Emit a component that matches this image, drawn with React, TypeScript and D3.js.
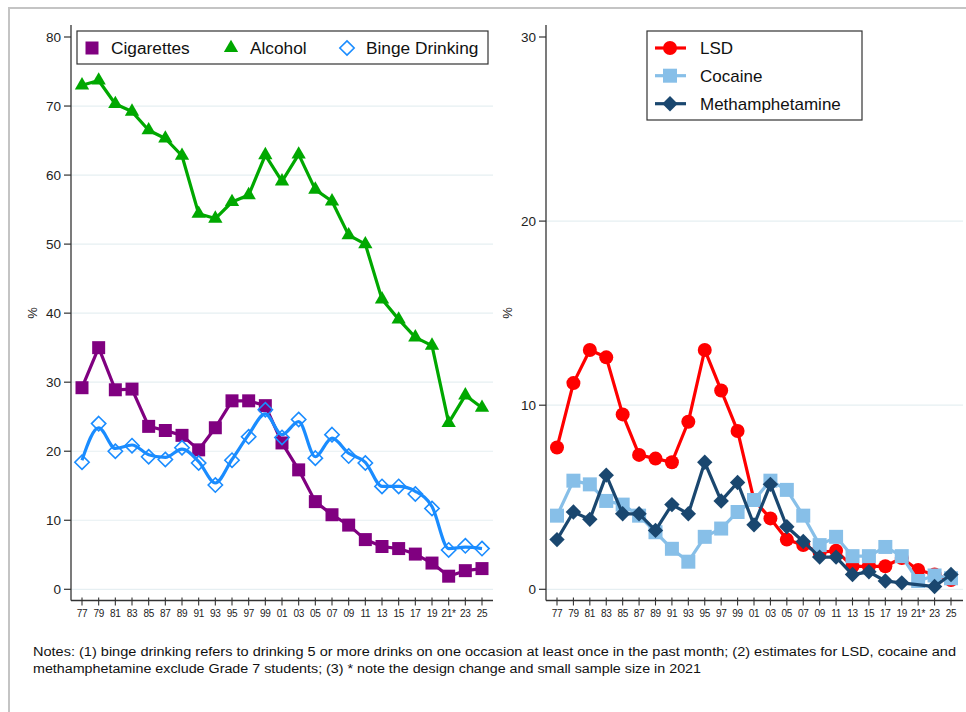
import { useMemo } from "react";
import * as d3 from "d3";

// survey years (two-digit labels as on the axis)
const years = ["77", "79", "81", "83", "85", "87", "89", "91", "93", "95", "97", "99", "01", "03", "05", "07", "09", "11", "13", "15", "17", "19", "21*", "23", "25"];

// left panel (%)
const cigarettes = [29.2, 35.0, 28.9, 29.0, 23.6, 23.0, 22.3, 20.2, 23.4, 27.3, 27.3, 26.6, 21.2, 17.3, 12.7, 10.8, 9.3, 7.2, 6.2, 5.9, 5.1, 3.8, 1.9, 2.7, 3.0];
const alcohol = [73.0, 73.7, 70.3, 69.2, 66.5, 65.3, 62.8, 54.4, 53.7, 56.1, 57.1, 62.9, 59.1, 63.0, 57.9, 56.2, 51.3, 50.0, 42.0, 39.1, 36.5, 35.3, 24.1, 28.1, 26.3];
const bingeDrinking = [18.4, 24.0, 20.0, 20.8, 19.2, 18.8, 20.5, 18.3, 15.1, 18.7, 22.1, 26.0, 22.0, 24.6, 19.0, 22.4, 19.3, 18.3, 14.9, 14.9, 13.8, 11.7, 5.7, 6.3, 5.9];
const bingeTrend = [18.7, 23.4, 20.4, 20.9, 19.5, 19.1, 20.3, 18.5, 15.4, 18.8, 22.4, 25.4, 22.4, 24.3, 19.2, 21.9, 19.7, 18.4, 14.9, 14.9, 14.2, 12.0, 5.9, 6.1, 5.9];

// right panel (%)
const lsd = [7.7, 11.2, 13.0, 12.6, 9.5, 7.3, 7.1, 6.9, 9.1, 13.0, 10.8, 8.6, 4.85, 3.85, 2.7, 2.4, 2.0, 2.1, 1.25, 1.25, 1.25, 1.7, 1.05, 0.8, 0.5];
const cocaine = [4.0, 5.9, 5.7, 4.8, 4.6, 4.0, 3.1, 2.2, 1.5, 2.85, 3.3, 4.2, 4.85, 5.9, 5.4, 4.0, 2.4, 2.85, 1.8, 1.8, 2.3, 1.8, 0.45, 0.75, 0.6];
const methamphetamine: (number | null)[] = [2.7, 4.2, 3.8, 6.2, 4.1, 4.1, 3.2, 4.6, 4.1, 6.9, 4.8, 5.8, 3.5, 5.7, 3.4, 2.6, 1.75, 1.75, 0.8, 0.95, 0.45, 0.35, null, 0.15, 0.8];

const leftTicks = [0, 10, 20, 30, 40, 50, 60, 70, 80];
const rightTicks = [0, 10, 20, 30];

const noteLines = [
  "Notes: (1) binge drinking refers to drinking 5 or more drinks on one occasion at least once in the past month; (2) estimates for LSD, cocaine and",
  "methamphetamine exclude Grade 7 students; (3) * note the design change and small sample size in 2021",
];

type Shape = "square" | "triangle" | "diamond" | "circle";

interface Series {
  name: string;
  color: string;
  shape: Shape;
  hollow?: boolean;
  values: (number | null)[];
  line?: (number | null)[];
  smooth?: boolean;
}

const FONT = "'Liberation Sans', Arial, Helvetica, sans-serif";
const GRID = "#e6eff2";
const AXIS = "#333";

function markerPath(shape: Shape, s: number): string {
  const h = s / 2;
  switch (shape) {
    case "square":
      return `M${-h},${-h}H${h}V${h}H${-h}Z`;
    case "triangle": {
      const w = s * 1.1;
      const ht = s * 0.95;
      return `M0,${(-2 * ht) / 3}L${w / 2},${ht / 3}L${-w / 2},${ht / 3}Z`;
    }
    case "diamond":
      return `M0,${-h * 1.1}L${h * 1.1},0L0,${h * 1.1}L${-h * 1.1},0Z`;
    default:
      return d3.arc()({ innerRadius: 0, outerRadius: h, startAngle: 0, endAngle: 2 * Math.PI }) ?? "";
  }
}

function Marker({ x, y, s, color, shape, hollow }: { x: number; y: number; s: number; color: string; shape: Shape; hollow?: boolean }) {
  return (
    <path
      transform={`translate(${x},${y})`}
      d={markerPath(shape, s)}
      fill={hollow ? "none" : color}
      stroke={color}
      strokeWidth={hollow ? 1.6 : 0}
    />
  );
}

interface PanelProps {
  x0: number;
  x1: number;
  dataX0: number;
  dataX1: number;
  yMax: number;
  ticks: number[];
  series: Series[];
  markerSize: number;
}

function Panel({ x0, x1, dataX0, dataX1, yMax, ticks, series, markerSize }: PanelProps) {
  const x = useMemo(() => d3.scalePoint<string>().domain(years).range([dataX0, dataX1]), [dataX0, dataX1]);
  const y = useMemo(() => d3.scaleLinear().domain([0, yMax]).range([589.3, 37]), [yMax]);
  const axisY = 600.5;

  return (
    <g fontFamily={FONT}>
      {/* grid */}
      {ticks
        .filter((t) => t !== yMax)
        .map((t) => (
          <line key={`g${t}`} x1={x0} x2={x1} y1={y(t)} y2={y(t)} stroke={GRID} strokeWidth={1.2} />
        ))}

      {/* series */}
      {series.map((s) => {
        const lineVals = s.line ?? s.values;
        const pts = years
          .map((yr, i) => [x(yr)!, lineVals[i]] as [number, number | null])
          .filter((p) => p[1] != null)
          .map((p) => [p[0], y(p[1] as number)] as [number, number]);
        const gen = d3.line().curve(s.smooth ? d3.curveMonotoneX : d3.curveLinear);
        return (
          <g key={s.name}>
            <path d={gen(pts) ?? ""} fill="none" stroke={s.color} strokeWidth={3.2} strokeLinejoin="round" />
            {s.values.map((v, i) =>
              v == null ? null : (
                <Marker key={i} x={x(years[i])!} y={y(v)} s={markerSize} color={s.color} shape={s.shape} hollow={s.hollow} />
              ),
            )}
          </g>
        );
      })}

      {/* y axis */}
      <line x1={x0} x2={x0} y1={25} y2={axisY} stroke={AXIS} strokeWidth={1.3} />
      {ticks.map((t) => (
        <g key={`t${t}`}>
          <line x1={x0 - 7} x2={x0} y1={y(t)} y2={y(t)} stroke={AXIS} strokeWidth={1.2} />
          <text x={x0 - 10} y={y(t)} dy="0.35em" textAnchor="end" fontSize={13.5} fill="#222">
            {t}
          </text>
        </g>
      ))}
      <text transform={`translate(${x0 - 34},${313}) rotate(-90)`} textAnchor="middle" fontSize={13} fill="#222">
        %
      </text>

      {/* x axis */}
      <line x1={x0} x2={x1} y1={axisY} y2={axisY} stroke={AXIS} strokeWidth={1.3} />
      {years.map((yr) => (
        <g key={yr}>
          <line x1={x(yr)} x2={x(yr)} y1={axisY - 3} y2={axisY + 5} stroke={AXIS} strokeWidth={1.1} />
          <text x={x(yr)} y={617} textAnchor="middle" fontSize={10} fill="#222" letterSpacing={-0.3}>
            {yr}
          </text>
        </g>
      ))}
    </g>
  );
}

export default function App() {
  const leftSeries: Series[] = [
    { name: "Cigarettes", color: "#800080", shape: "square", values: cigarettes },
    { name: "Alcohol", color: "#00a800", shape: "triangle", values: alcohol },
    { name: "Binge Drinking", color: "#1a8cff", shape: "diamond", hollow: true, values: bingeDrinking, line: bingeTrend, smooth: true },
  ];
  const rightSeries: Series[] = [
    { name: "LSD", color: "#ff0000", shape: "circle", values: lsd },
    { name: "Cocaine", color: "#87bfe8", shape: "square", values: cocaine },
    { name: "Methamphetamine", color: "#1a476f", shape: "diamond", values: methamphetamine },
  ];

  const leftLegendX = [92, 231, 347];
  const rightLegendY = [48, 75.7, 103.7];

  return (
    <div style={{ position: "absolute", left: 0, top: 0 }}>
      <svg width={966} height={712} style={{ display: "block", background: "#fff" }}>
        {/* outer frame of the figure */}
        <rect x={9} y={8} width={980} height={720} fill="none" stroke="#c4c4c4" strokeWidth={2} />

        <Panel x0={71} x1={493} dataX0={82} dataX1={482} yMax={80} ticks={leftTicks} series={leftSeries} markerSize={13} />
        <Panel x0={546} x1={963} dataX0={557} dataX1={951} yMax={30} ticks={rightTicks} series={rightSeries} markerSize={14} />

        {/* left legend */}
        <g fontFamily={FONT}>
          <rect x={77} y={31} width={411} height={33} fill="#fff" stroke="#333" strokeWidth={1.2} />
          {leftSeries.map((s, i) => (
            <g key={s.name}>
              <Marker x={leftLegendX[i]} y={48} s={13} color={s.color} shape={s.shape} hollow={s.hollow} />
              <text x={leftLegendX[i] + 19} y={48} dy="0.36em" fontSize={17.3} fill="#111">
                {s.name}
              </text>
            </g>
          ))}
        </g>

        {/* right legend */}
        <g fontFamily={FONT}>
          <rect x={647} y={31} width={215} height={89} fill="#fff" stroke="#333" strokeWidth={1.2} />
          {rightSeries.map((s, i) => (
            <g key={s.name}>
              <line x1={655} x2={686} y1={rightLegendY[i]} y2={rightLegendY[i]} stroke={s.color} strokeWidth={3.2} />
              <Marker x={670} y={rightLegendY[i]} s={14} color={s.color} shape={s.shape} />
              <text x={700} y={rightLegendY[i]} dy="0.36em" fontSize={17} fill="#111">
                {s.name}
              </text>
            </g>
          ))}
        </g>

        {/* notes */}
        <g fontFamily={FONT} fontSize={12.5} fill="#111">
          <text x={33} y={656} textLength={923} lengthAdjust="spacingAndGlyphs">
            {noteLines[0]}
          </text>
          <text x={33} y={673} textLength={668} lengthAdjust="spacingAndGlyphs">
            {noteLines[1]}
          </text>
        </g>
      </svg>
    </div>
  );
}
